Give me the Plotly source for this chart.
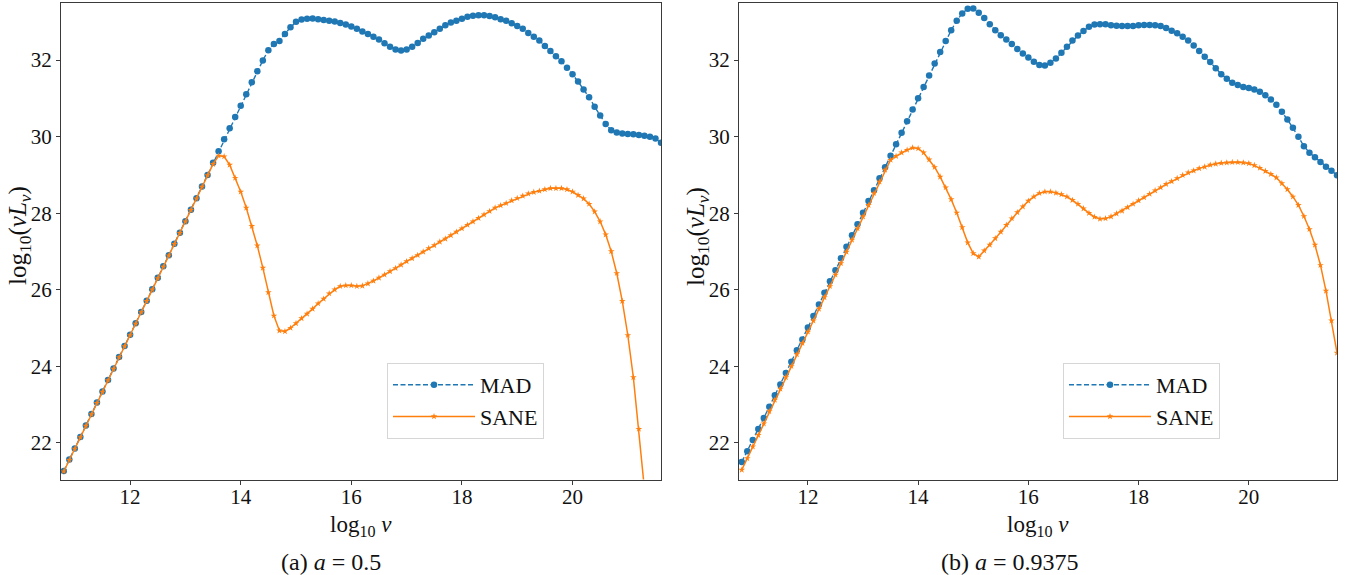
import plotly.graph_objects as go

# ---------------- data ----------------
log_nu = [
    10.8, 10.9, 11.0, 11.1, 11.2, 11.3, 11.4, 11.5, 11.6, 11.7,
    11.8, 11.9, 12.0, 12.1, 12.2, 12.3, 12.4, 12.5, 12.6, 12.7,
    12.8, 12.9, 13.0, 13.1, 13.2, 13.3, 13.4, 13.5, 13.6, 13.7,
    13.8, 13.9, 14.0, 14.1, 14.2, 14.3, 14.4, 14.5, 14.6, 14.7,
    14.8, 14.9, 15.0, 15.1, 15.2, 15.3, 15.4, 15.5, 15.6, 15.7,
    15.8, 15.9, 16.0, 16.1, 16.2, 16.3, 16.4, 16.5, 16.6, 16.7,
    16.8, 16.9, 17.0, 17.1, 17.2, 17.3, 17.4, 17.5, 17.6, 17.7,
    17.8, 17.9, 18.0, 18.1, 18.2, 18.3, 18.4, 18.5, 18.6, 18.7,
    18.8, 18.9, 19.0, 19.1, 19.2, 19.3, 19.4, 19.5, 19.6, 19.7,
    19.8, 19.9, 20.0, 20.1, 20.2, 20.3, 20.4, 20.5, 20.6, 20.7,
    20.8, 20.9, 21.0, 21.1, 21.2, 21.3, 21.4, 21.5, 21.6,
]

# panel (a): a = 0.5
mad_a05 = [
    21.26, 21.56, 21.85, 22.15, 22.45, 22.75, 23.05, 23.34, 23.64, 23.94,
    24.24, 24.53, 24.82, 25.12, 25.42, 25.71, 26.01, 26.31, 26.61, 26.90,
    27.20, 27.49, 27.79, 28.09, 28.39, 28.70, 29.00, 29.32, 29.62, 29.93,
    30.22, 30.51, 30.81, 31.11, 31.42, 31.71, 31.99, 32.26, 32.42, 32.50,
    32.68, 32.86, 33.00, 33.06, 33.08, 33.09, 33.07, 33.05, 33.03, 33.01,
    32.97, 32.93, 32.88, 32.82, 32.75, 32.68, 32.61, 32.54, 32.44, 32.35,
    32.28, 32.25, 32.28, 32.35, 32.45, 32.56, 32.64, 32.73, 32.82, 32.91,
    32.98, 33.03, 33.08, 33.13, 33.16, 33.17, 33.17, 33.15, 33.12, 33.07,
    33.03, 32.96, 32.89, 32.82, 32.71, 32.61, 32.51, 32.37, 32.24, 32.10,
    31.97, 31.80, 31.63, 31.44, 31.23, 31.03, 30.78, 30.55, 30.33, 30.17,
    30.11, 30.08, 30.07, 30.06, 30.04, 30.02, 30.00, 29.95, 29.84,
]
sane_a05 = [
    21.25, 21.55, 21.84, 22.14, 22.44, 22.74, 23.04, 23.33, 23.63, 23.93,
    24.23, 24.52, 24.81, 25.11, 25.41, 25.70, 26.00, 26.30, 26.60, 26.89,
    27.19, 27.48, 27.78, 28.08, 28.38, 28.69, 28.99, 29.28, 29.50, 29.48,
    29.26, 28.92, 28.56, 28.14, 27.66, 27.15, 26.57, 25.93, 25.32, 24.93,
    24.91, 25.00, 25.12, 25.25, 25.37, 25.50, 25.64, 25.76, 25.90, 26.00,
    26.09, 26.11, 26.11, 26.09, 26.10, 26.16, 26.23, 26.31, 26.39, 26.48,
    26.56, 26.65, 26.74, 26.82, 26.90, 26.99, 27.08, 27.16, 27.25, 27.33,
    27.42, 27.51, 27.60, 27.69, 27.78, 27.87, 27.96, 28.05, 28.14, 28.20,
    28.26, 28.33, 28.39, 28.45, 28.51, 28.55, 28.58, 28.62, 28.65, 28.65,
    28.65, 28.62, 28.56, 28.47, 28.38, 28.24, 28.04, 27.78, 27.44, 27.00,
    26.43, 25.70, 24.81, 23.71, 22.36, 20.80, 18.90, 16.80, 14.50,
]

# panel (b): a = 0.9375
mad_a09375 = [
    21.50, 21.78, 22.07, 22.36, 22.65, 22.94, 23.24, 23.52, 23.82, 24.12,
    24.42, 24.70, 25.01, 25.31, 25.61, 25.92, 26.22, 26.51, 26.82, 27.12,
    27.42, 27.71, 28.01, 28.32, 28.60, 28.91, 29.20, 29.50, 29.80, 30.10,
    30.40, 30.71, 31.00, 31.30, 31.60, 31.91, 32.21, 32.50, 32.78, 33.03,
    33.22, 33.34, 33.35, 33.24, 33.10, 32.94, 32.78, 32.65, 32.54, 32.42,
    32.29, 32.17, 32.07, 31.96, 31.87, 31.86, 31.93, 32.04, 32.19, 32.35,
    32.51, 32.64, 32.76, 32.87, 32.93, 32.94, 32.94, 32.91, 32.90, 32.89,
    32.89, 32.89, 32.91, 32.92, 32.92, 32.91, 32.89, 32.84, 32.77, 32.70,
    32.61, 32.51, 32.38, 32.24, 32.09, 31.95, 31.79, 31.63, 31.51, 31.41,
    31.35, 31.30, 31.27, 31.23, 31.17, 31.08, 30.97, 30.83, 30.65, 30.45,
    30.23, 30.00, 29.75, 29.58, 29.46, 29.34, 29.21, 29.11, 28.99,
]
sane_a09375 = [
    21.29, 21.59, 21.90, 22.20, 22.50, 22.82, 23.12, 23.41, 23.71, 24.00,
    24.31, 24.60, 24.90, 25.19, 25.50, 25.80, 26.09, 26.39, 26.69, 26.99,
    27.30, 27.60, 27.91, 28.21, 28.52, 28.82, 29.13, 29.39, 29.49, 29.58,
    29.65, 29.71, 29.69, 29.58, 29.40, 29.20, 28.95, 28.67, 28.36, 28.01,
    27.63, 27.23, 26.95, 26.86, 27.02, 27.17, 27.34, 27.51, 27.69, 27.86,
    28.02, 28.17, 28.32, 28.43, 28.52, 28.56, 28.56, 28.53, 28.49, 28.43,
    28.34, 28.24, 28.12, 28.00, 27.90, 27.85, 27.86, 27.91, 27.99, 28.06,
    28.15, 28.24, 28.33, 28.41, 28.50, 28.59, 28.67, 28.76, 28.83, 28.91,
    28.99, 29.06, 29.11, 29.17, 29.21, 29.26, 29.29, 29.31, 29.32, 29.33,
    29.33, 29.32, 29.30, 29.25, 29.18, 29.10, 29.02, 28.93, 28.78, 28.62,
    28.43, 28.21, 27.92, 27.58, 27.17, 26.64, 25.97, 25.19, 24.35,
]

x_ticks = [12, 14, 16, 18, 20]
y_ticks = [22, 24, 26, 28, 30, 32]
captions = ["(a) <i>a</i> = 0.5", "(b) <i>a</i> = 0.9375"]
series_names = ["MAD", "SANE"]

# ---------------- styling ----------------
W, H = 1348, 575
FONT = "Liberation Serif"
BLUE = "#1f77b4"
ORANGE = "#ff7f0e"
AX = "#3a3a3a"
TXT = "#111111"

# pixel boxes of the two panels
panels = [
    dict(x0=61, x1=661),
    dict(x0=739, x1=1337),
]
py0, py1 = 2.7, 479.5

fig = go.Figure()

data_sets = [(mad_a05, sane_a05), (mad_a09375, sane_a09375)]
for i, (mad, sane) in enumerate(data_sets):
    xa = "x" if i == 0 else "x2"
    ya = "y" if i == 0 else "y2"
    lg = "legend" if i == 0 else "legend2"
    fig.add_trace(go.Scatter(
        x=log_nu, y=mad, name=series_names[0], mode="lines+markers",
        line=dict(color=BLUE, width=1.4, dash="5px,2.5px"),
        marker=dict(color=BLUE, size=6.5, symbol="circle",
                    line=dict(width=0)),
        xaxis=xa, yaxis=ya, legend=lg,
    ))
    fig.add_trace(go.Scatter(
        x=log_nu, y=sane, name=series_names[1], mode="lines+markers",
        line=dict(color=ORANGE, width=1.5),
        marker=dict(color=ORANGE, size=5, symbol="star",
                    line=dict(width=0)),
        xaxis=xa, yaxis=ya, legend=lg,
    ))

axis_common = dict(
    showgrid=False, zeroline=False, showline=True, mirror=True,
    linecolor=AX, linewidth=1, ticks="outside", ticklen=4, tickwidth=1,
    tickcolor=AX, tickfont=dict(family=FONT, size=21, color=TXT),
)
ydom = [1 - py1 / H, 1 - py0 / H]
layout = dict(
    width=W, height=H,
    margin=dict(l=0, r=0, t=0, b=0),
    paper_bgcolor="white", plot_bgcolor="white",
    font=dict(family=FONT, color=TXT),
    xaxis=dict(domain=[panels[0]["x0"] / W, panels[0]["x1"] / W],
               range=[10.75, 21.6], tickvals=x_ticks, anchor="y",
               ticklabelstandoff=-6, **axis_common),
    yaxis=dict(domain=ydom, range=[21.04, 33.5], tickvals=y_ticks,
               anchor="x", **axis_common),
    xaxis2=dict(domain=[panels[1]["x0"] / W, panels[1]["x1"] / W],
                range=[10.75, 21.6], tickvals=x_ticks, anchor="y2",
                ticklabelstandoff=-6, **axis_common),
    yaxis2=dict(domain=ydom, range=[21.04, 33.5], tickvals=y_ticks,
                anchor="x2", **axis_common),
)
legend_common = dict(
    xanchor="left", yanchor="top",
    bgcolor="rgba(255,255,255,0.8)", bordercolor="#d6d6d6", borderwidth=1,
    font=dict(family=FONT, size=22, color=TXT),
    itemwidth=82, tracegroupgap=0,
)
layout["legend"] = dict(x=387 / W, y=1 - 363 / H, **legend_common)
layout["legend2"] = dict(x=1063 / W, y=1 - 363 / H, **legend_common)
fig.update_layout(**layout)

annots = []
for i, p in enumerate(panels):
    cx = (p["x0"] + p["x1"]) / 2
    annots.append(dict(
        text="log<sub>10</sub> <i>ν</i>", x=cx / W, y=1 - 526 / H,
        xref="paper", yref="paper", xanchor="center", yanchor="middle",
        showarrow=False, font=dict(family=FONT, size=23, color=TXT)))
    annots.append(dict(
        text="log<sub>10</sub>(<i>νL<sub>ν</sub></i>)",
        x=(p["x0"] - 41) / W, y=1 - 236 / H, textangle=-90,
        xref="paper", yref="paper", xanchor="center", yanchor="middle",
        showarrow=False, font=dict(family=FONT, size=25, color=TXT)))
cap_x = [331, 1010]
for i, c in enumerate(captions):
    annots.append(dict(
        text=c, x=cap_x[i] / W, y=1 - 562 / H,
        xref="paper", yref="paper", xanchor="center", yanchor="middle",
        showarrow=False, font=dict(family=FONT, size=24, color=TXT)))
fig.update_layout(annotations=annots)

fig.write_html("out.html")
